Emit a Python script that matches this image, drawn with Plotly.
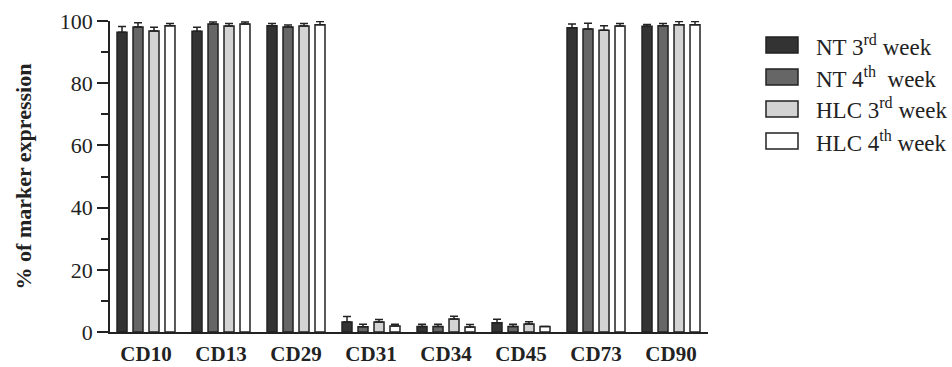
import plotly.graph_objects as go

categories = ["CD10", "CD13", "CD29", "CD31", "CD34", "CD45", "CD73", "CD90"]
series_names = ["NT 3<sup>rd</sup> week", "NT 4<sup>th</sup>  week",
                "HLC 3<sup>rd</sup> week", "HLC 4<sup>th</sup> week"]
nt3 = [96.4, 96.7, 98.5, 3.2, 1.8, 3.0, 97.8, 98.3]
nt3_err = [1.8, 1.3, 0.7, 1.8, 0.7, 1.1, 1.2, 0.6]
nt4 = [98.1, 99.0, 98.1, 1.7, 1.8, 1.8, 97.4, 98.5]
nt4_err = [1.3, 0.7, 0.6, 0.8, 0.7, 0.7, 1.9, 0.7]
hlc3 = [96.8, 98.4, 98.4, 3.2, 4.2, 2.6, 97.0, 98.8]
hlc3_err = [1.2, 0.8, 0.8, 0.8, 0.9, 0.7, 1.5, 1.0]
hlc4 = [98.5, 99.0, 98.8, 1.9, 1.6, 1.8, 98.4, 98.8]
hlc4_err = [0.7, 0.7, 1.0, 0.6, 0.8, 0.0, 0.8, 1.0]
y_ticks = [0, 20, 40, 60, 80, 100]

colors = ["#333333", "#666666", "#d3d3d3", "#ffffff"]
values = [nt3, nt4, hlc3, hlc4]
errors = [nt3_err, nt4_err, hlc3_err, hlc4_err]

FONT = "Liberation Serif, serif"

W, H = 952, 367
L, R, T, B = 110, 708, 21, 332

fig = go.Figure()
for name, v, e, c in zip(series_names, values, errors, colors):
    fig.add_trace(go.Bar(
        x=categories, y=v, name=name,
        marker=dict(color=c, line=dict(color="#222222", width=1.5)),
        error_y=dict(type="data", symmetric=False, array=e,
                     arrayminus=[0] * len(e), color="#222222",
                     thickness=1.5, width=4),
        showlegend=False,
    ))

def px_x(p):
    return (p - L) / (R - L)

def px_y(p):
    return (B - p) / (B - T)

shapes = []
annotations = []
legend_rows = [45, 77, 109, 141]
for name, c, yc in zip(series_names, colors, legend_rows):
    shapes.append(dict(type="rect", xref="paper", yref="paper",
                       x0=px_x(766), x1=px_x(798),
                       y0=px_y(yc + 8), y1=px_y(yc - 8),
                       fillcolor=c, line=dict(color="#222222", width=1.5)))
    annotations.append(dict(xref="paper", yref="paper", x=px_x(814), y=px_y(yc),
                            xanchor="left", yanchor="middle", showarrow=False,
                            text=name,
                            font=dict(family=FONT, size=23, color="#222222")))

fig.update_layout(
    width=W, height=H,
    margin=dict(l=L, r=W - R, t=T, b=H - B, pad=0),
    plot_bgcolor="white", paper_bgcolor="white",
    barmode="group", bargap=0.147, bargroupgap=0.375,
    font=dict(family=FONT, color="#222222"),
    shapes=shapes, annotations=annotations,
    xaxis=dict(range=[-0.48, 7.493], showline=True, linecolor="#222222",
               linewidth=1.5, ticks="", showgrid=False, ticklabelstandoff=2,
               automargin=False,
               tickfont=dict(family=FONT, size=21, weight="bold",
                             color="#222222")),
    yaxis=dict(range=[0, 100], tickvals=y_ticks, showline=True,
               linecolor="#222222", linewidth=1.5, ticks="outside", ticklen=11,
               tickwidth=1.5, tickcolor="#222222", showgrid=False, zeroline=False,
               automargin=False,
               minor=dict(tickvals=[10, 30, 50, 70, 90], ticks="outside",
                          ticklen=7, tickwidth=1.5, tickcolor="#222222"),
               tickfont=dict(family=FONT, size=22, color="#222222"),
               title=dict(text="% of marker expression", standoff=22,
                          font=dict(family=FONT, size=22,
                                    weight="bold", color="#222222"))),
)

fig.write_html("out.html", config={"displayModeBar": False},
               post_script="document.body.style.margin='0px';")
